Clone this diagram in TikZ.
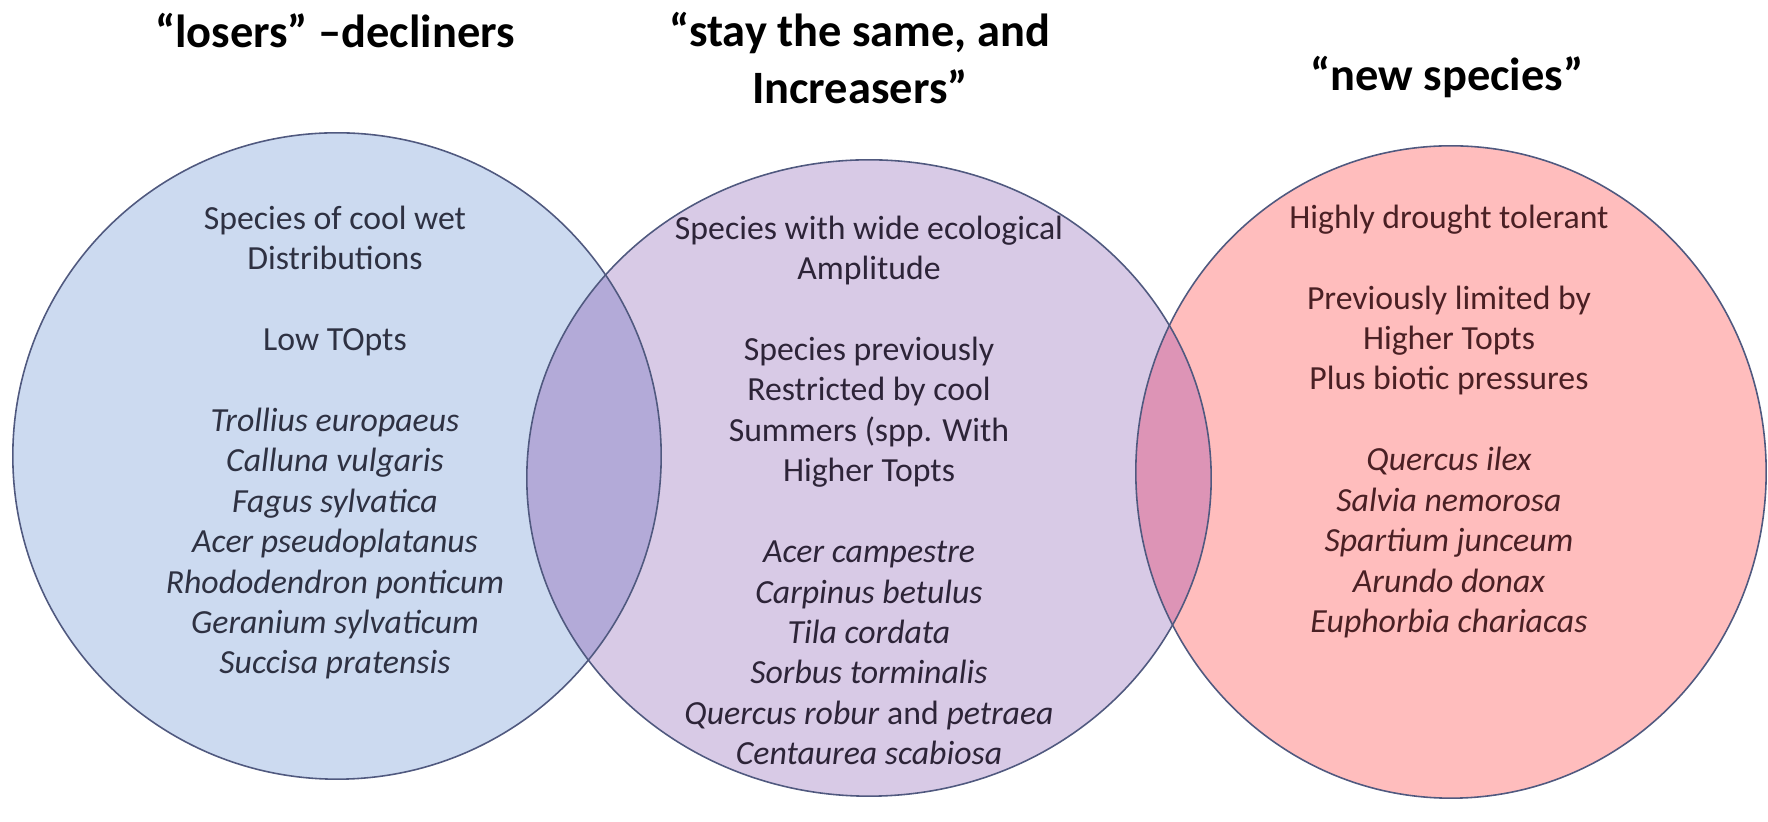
\documentclass[tikz,border=0pt]{standalone}
\usepackage{fontspec}
\setmainfont{Carlito}
\definecolor{loserfill}{HTML}{CCDAF0}
\definecolor{stayfill}{HTML}{D8CAE6}
\definecolor{newfill}{HTML}{FFBDBD}
\definecolor{lmfill}{HTML}{B3AAD8}
\definecolor{mrfill}{HTML}{DD94B6}
\definecolor{vennline}{HTML}{50597F}
\definecolor{losertext}{HTML}{2E3142}
\definecolor{staytext}{HTML}{2D2438}
\definecolor{newtext}{HTML}{4A2024}

\begin{document}
\begin{tikzpicture}[x=0.01cm, y=-0.01cm,
    venn/.style={draw=vennline, line width=0.45pt},
    body/.style={align=center, inner sep=0pt, anchor=north,
        font=\fontsize{9.6}{11.5}\selectfont},
    head/.style={align=center, inner sep=0pt,
        font=\bfseries\fontsize{13.2}{16.2}\selectfont}]
    \useasboundingbox (0,0) rectangle (1768,822);

    % Set centres
    \coordinate (L) at (337,456);
    \coordinate (M) at (869,478);
    \coordinate (R) at (1451,472);

    % Fills
    \fill[loserfill] (L) ellipse [x radius=3.24cm, y radius=3.23cm];
    \fill[stayfill] (M) ellipse [x radius=3.42cm, y radius=3.18cm];
    \fill[newfill] (R) ellipse [x radius=3.15cm, y radius=3.26cm];

    % Overlaps
    \begin{scope}
        \clip (L) ellipse [x radius=3.24cm, y radius=3.23cm];
        \fill[lmfill] (M) ellipse [x radius=3.42cm, y radius=3.18cm];
    \end{scope}
    \begin{scope}
        \clip (R) ellipse [x radius=3.15cm, y radius=3.26cm];
        \fill[mrfill] (M) ellipse [x radius=3.42cm, y radius=3.18cm];
    \end{scope}

    % Outlines
    \draw[venn] (L) ellipse [x radius=3.24cm, y radius=3.23cm];
    \draw[venn] (M) ellipse [x radius=3.42cm, y radius=3.18cm];
    \draw[venn] (R) ellipse [x radius=3.15cm, y radius=3.26cm];

    % Headings
    \node[head] (loserhead) at (335,31) {“losers” –decliners};
    \node[head] (stayhead) at (860,58) {“stay the same, and\\Increasers”};
    \node[head] (newhead) at (1447,77) {“new species”};

    % Losers
    \node[body, text=losertext] (losers) at (335,205) {Species of cool wet\\
        Distributions\\[11.5pt]
        Low TOpts\\[11.5pt]
        \itshape Trollius europaeus\\
        \itshape Calluna vulgaris\\
        \itshape Fagus sylvatica\\
        \itshape Acer pseudoplatanus\\
        \itshape Rhododendron ponticum\\
        \itshape Geranium sylvaticum\\
        \itshape Succisa pratensis};

    % Stay the same
    \node[body, text=staytext] (stay) at (869,215) {Species with wide ecological\\
        Amplitude\\[11.5pt]
        Species previously\\
        Restricted by cool\\
        Summers (spp. With\\
        Higher Topts\\[11.5pt]
        \itshape Acer campestre\\
        \itshape Carpinus betulus\\
        \itshape Tila cordata\\
        \itshape Sorbus torminalis\\
        \textit{Quercus robur} and \textit{petraea}\\
        \itshape Centaurea scabiosa};

    % New species
    \node[body, text=newtext] (newsp) at (1449,204) {Highly drought tolerant\\[11.5pt]
        Previously limited by\\
        Higher Topts\\
        Plus biotic pressures\\[11.5pt]
        \itshape Quercus ilex\\
        \itshape Salvia nemorosa\\
        \itshape Spartium junceum\\
        \itshape Arundo donax\\
        \itshape Euphorbia chariacas};
\end{tikzpicture}
\end{document}
